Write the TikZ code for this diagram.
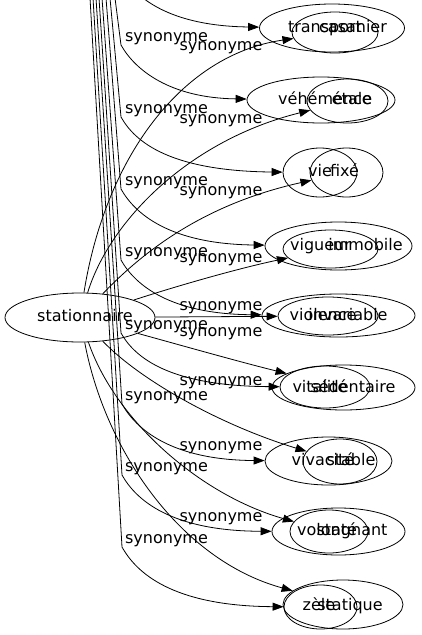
\documentclass[tikz,border=0pt]{standalone}
\usepackage{fontspec}
\setmainfont{DejaVu Sans}
\usetikzlibrary{arrows.meta, positioning, shapes.geometric}
\newcommand{\ctext}[2][0]{\makebox[0pt]{\hspace*{#1pt}\hspace*{#1pt}#2}}

\begin{document}
\begin{tikzpicture}[x=1pt, y=-1pt,
      word/.style={draw, ellipse, line width=0.8pt, inner sep=0pt, text height=12pt, text depth=3.5pt, font=\fontsize{16}{19}\selectfont},
      lbl/.style={inner sep=0pt, font=\fontsize{16}{19}\selectfont},
      syn/.style={->, line width=0.8pt},
      >={Triangle[length=11pt, width=8pt]}
    ]
    \useasboundingbox (0,0) rectangle (421,635);
    \clip (0,0) rectangle (421,635);

    \node[word, minimum width=150pt, minimum height=49pt] (stationnaire) at (80,317.5) {\ctext[5]{stationnaire}};

    \node[word, minimum width=145pt, minimum height=48pt] (transport) at (332,28) {\ctext[-7]{transport}};
    \node[word, minimum width=86pt, minimum height=41pt] (casanier) at (335,32.5) {\raisebox{4.5pt}{\ctext[18]{casanier}}};
    \node[word, minimum width=148pt, minimum height=46pt] (vehemence) at (321,100) {\ctext[4]{véhémence}};
    \node[word, minimum width=81pt, minimum height=44pt] (etale) at (347.5,101) {\raisebox{1pt}{\ctext[4.5]{étale}}};
    \node[word, minimum width=74pt, minimum height=49pt] (vie) at (320,172.5) {\ctext{vie}};
    \node[word, minimum width=73pt, minimum height=49pt] (fixe) at (346.5,172.5) {\ctext[-2]{fixé}};
    \node[word, minimum width=147pt, minimum height=48pt] (vigueur) at (338.5,246) {\ctext[-18]{vigueur}};
    \node[word, minimum width=95pt, minimum height=38pt] (immobile) at (330.5,249) {\raisebox{3pt}{\ctext[35]{immobile}}};
    \node[word, minimum width=153pt, minimum height=43pt] (violence) at (338.5,315.5) {\raisebox{-1pt}{\ctext[-15.5]{violence}}};
    \node[word, minimum width=100pt, minimum height=38pt] (invariable) at (328,316) {\raisebox{-0.5pt}{\ctext[20]{invariable}}};
    \node[word, minimum width=90pt, minimum height=42pt] (vitalite) at (325,387) {\raisebox{-1pt}{\ctext[-5]{vitalité}}};
    \node[word, minimum width=143pt, minimum height=45pt] (sedentaire) at (343.5,387.5) {\raisebox{-0.5pt}{\ctext[9.5]{sédentaire}}};
    \node[word, minimum width=127pt, minimum height=48pt] (vivacite) at (328.5,461) {\ctext[-5.5]{vivacité}};
    \node[word, minimum width=74pt, minimum height=45pt] (stable) at (340,461.5) {\raisebox{0.5pt}{\ctext[11]{stable}}};
    \node[word, minimum width=133pt, minimum height=47pt] (volonte) at (338.5,531.5) {\ctext[-11.5]{volonté}};
    \node[word, minimum width=78pt, minimum height=43pt] (stagnant) at (329,531.5) {\ctext[23]{stagnant}};
    \node[word, minimum width=73pt, minimum height=44pt] (zele) at (320.5,607) {\raisebox{1pt}{\ctext[-1.5]{zèle}}};
    \node[word, minimum width=120pt, minimum height=49pt] (statique) at (343,604.5) {\raisebox{-1.5pt}{\ctext[7]{statique}}};

    \coordinate (topA1) at (121,-27);
    \coordinate (topA2) at (115,-2);
    \coordinate (topA3) at (110,-2);
    \coordinate (topA4) at (106,-2);
    \coordinate (topA5) at (102,-2);
    \coordinate (topA6) at (99,-2);
    \coordinate (topA7) at (96,-2);
    \coordinate (topA8) at (93,-2);
    \coordinate (topA9) at (90,-2);

    \draw[syn] (topA1) .. controls (135,-2) and (170,26) .. (transport);
    \draw[syn] (topA2) -- (121,45) .. controls (135,70) and (170,98) .. (vehemence) node[lbl] at (166.5,39) {synonyme};
    \draw[syn] (topA3) -- (121,117) .. controls (135,142) and (170,171) .. (vie) node[lbl] at (166.5,111) {synonyme};
    \draw[syn] (topA4) -- (121,189) .. controls (135,214) and (170,244) .. (vigueur) node[lbl] at (166.5,183) {synonyme};
    \draw[syn] (topA5) -- (121,260) .. controls (135,285) and (170,314) .. (violence) node[lbl] at (166.5,254) {synonyme};
    \draw[syn] (topA6) -- (121,333) .. controls (135,358) and (170,386) .. (vitalite) node[lbl] at (166.5,327) {synonyme};
    \draw[syn] (topA7) -- (122,404) .. controls (136,429) and (171,460) .. (vivacite) node[lbl] at (166.5,397.5) {synonyme};
    \draw[syn] (topA8) -- (122,475) .. controls (136,500) and (171,531) .. (volonte) node[lbl] at (166.5,469) {synonyme};
    \draw[syn] (topA9) -- (122,547) .. controls (136,572) and (171,606) .. (zele) node[lbl] at (166.5,541) {synonyme};

    \draw[syn] (stationnaire) .. controls (105,160) and (180,55) .. (casanier) node[lbl] at (221,47.5) {synonyme};
    \draw[syn] (stationnaire) .. controls (110,220) and (190,140) .. (etale) node[lbl] at (221,121) {synonyme};
    \draw[syn] (stationnaire) .. controls (140,255) and (200,205) .. (fixe) node[lbl] at (221,193) {synonyme};
    \draw[syn] (stationnaire) .. controls (180,285) and (240,268) .. (immobile) node[lbl] at (221,260) {synonyme};
    \draw[syn] (stationnaire) -- (invariable) node[lbl] at (221,307.5) {synonyme};
    \draw[syn] (stationnaire) .. controls (180,345) and (240,362) .. (sedentaire) node[lbl] at (221,334) {synonyme};
    \draw[syn] (stationnaire) .. controls (140,380) and (220,425) .. (stable) node[lbl] at (221,382.5) {synonyme};
    \draw[syn] (stationnaire) .. controls (115,420) and (200,495) .. (stagnant) node[lbl] at (221,447.5) {synonyme};
    \draw[syn] (stationnaire) .. controls (105,450) and (180,560) .. (statique) node[lbl] at (221,519) {synonyme};
  \end{tikzpicture}
\end{document}
